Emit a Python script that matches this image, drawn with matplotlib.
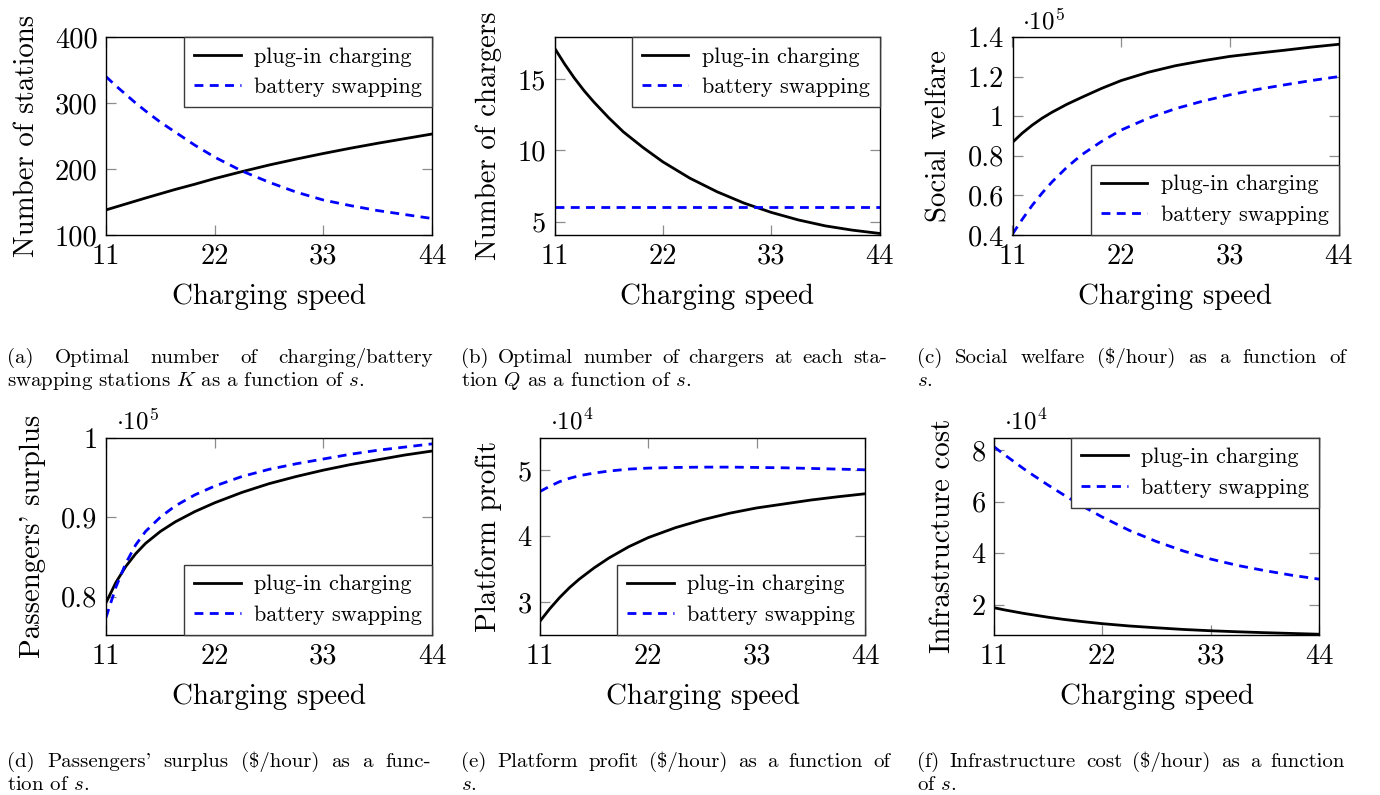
import numpy as np
import matplotlib.pyplot as plt

plt.rcParams['font.family'] = 'serif'
plt.rcParams['font.serif'] = ['cmr10']
plt.rcParams['mathtext.fontset'] = 'cm'
plt.rcParams['axes.unicode_minus'] = False
plt.rcParams['axes.linewidth'] = 1.0

# charging speed s
speed = [11, 12, 13, 14, 15, 16.5, 18, 20, 22, 24.75, 27.5, 30.25, 33, 35.75, 38.5, 41.25, 44]

# (a) number of stations K
stations_plug = [138, 142.5, 147, 151.5, 156, 162.5, 169, 177, 185.5, 196, 206, 215, 223.5, 231.5, 239, 246, 253]
stations_swap = [340, 326, 313, 300, 288, 271, 256, 236, 218, 197, 180, 165, 153, 144.5, 137, 131, 125]

# (b) chargers per station Q
chargers_plug = [17.2, 16.1, 15.1, 14.2, 13.4, 12.3, 11.3, 10.2, 9.2, 8.05, 7.1, 6.3, 5.65, 5.12, 4.7, 4.4, 4.17]
chargers_swap = [6] * len(speed)

# (c) social welfare, x1e5 $/hour
welfare_plug = [0.868, 0.915, 0.955, 0.99, 1.02, 1.06, 1.095, 1.14, 1.18, 1.222, 1.255, 1.28, 1.302, 1.318, 1.333, 1.349, 1.363]
welfare_swap = [0.405, 0.48, 0.55, 0.612, 0.668, 0.742, 0.805, 0.872, 0.93, 0.99, 1.038, 1.076, 1.108, 1.135, 1.158, 1.18, 1.2]

# (d) passengers' surplus, x1e5 $/hour
surplus_plug = [0.7925, 0.818, 0.838, 0.854, 0.867, 0.882, 0.894, 0.907, 0.918, 0.931, 0.942, 0.951, 0.959, 0.966, 0.972, 0.978, 0.983]
surplus_swap = [0.774, 0.812, 0.842, 0.865, 0.882, 0.9, 0.914, 0.928, 0.939, 0.951, 0.96, 0.967, 0.973, 0.979, 0.984, 0.988, 0.992]

# (e) platform profit, x1e4 $/hour
profit_plug = [2.71, 2.9, 3.07, 3.22, 3.35, 3.52, 3.67, 3.84, 3.98, 4.13, 4.25, 4.35, 4.43, 4.49, 4.55, 4.6, 4.645]
profit_swap = [4.68, 4.76, 4.83, 4.88, 4.92, 4.96, 4.99, 5.02, 5.035, 5.045, 5.05, 5.05, 5.045, 5.04, 5.03, 5.02, 5.01]

# (f) infrastructure cost, x1e4 $/hour
cost_plug = [1.88, 1.8, 1.73, 1.66, 1.6, 1.51, 1.43, 1.34, 1.26, 1.17, 1.1, 1.035, 0.985, 0.945, 0.91, 0.88, 0.85]
cost_swap = [8.13, 7.84, 7.56, 7.28, 7.02, 6.64, 6.28, 5.82, 5.4, 4.88, 4.45, 4.08, 3.77, 3.52, 3.32, 3.14, 2.99]

xticks = [11, 22, 33, 44]

W, H = 1380, 795
fig = plt.figure(figsize=(W / 100, H / 100), dpi=100)

# axes boxes in pixels: left, top, right, bottom
panels = [
    dict(box=(106, 37, 432, 235), y=(stations_plug, stations_swap), ylabel='Number of stations',
         ylim=(100, 400), yticks=[100, 200, 300, 400], ylab=['100', '200', '300', '400'],
         exp=None, loc='upper right',
         cap=(7, 433, 363, ['(a)', 'Optimal', 'number', 'of', 'charging/battery'],
              'swapping stations $K$ as a function of $s$.')),
    dict(box=(554.5, 37, 879.5, 235), y=(chargers_plug, chargers_swap), ylabel='Number of chargers',
         ylim=(4.06, 17.97), yticks=[5, 10, 15], ylab=['5', '10', '15'],
         exp=None, loc='upper right',
         cap=(461, 887, 363, ['(b)', 'Optimal', 'number', 'of', 'chargers', 'at', 'each', 'sta-'],
              'tion $Q$ as a function of $s$.')),
    dict(box=(1012.5, 37, 1338.5, 235), y=(welfare_plug, welfare_swap), ylabel='Social welfare',
         ylim=(0.4, 1.4), yticks=[0.4, 0.6, 0.8, 1.0, 1.2, 1.4], ylab=['0.4', '0.6', '0.8', '1', '1.2', '1.4'],
         exp=5, loc='lower right',
         cap=(917, 1346, 363, ['(c)', 'Social', 'welfare', '(\\$/hour)', 'as', 'a', 'function', 'of'],
              '$s$.')),
    dict(box=(106, 437.5, 432, 635), y=(surplus_plug, surplus_swap), ylabel="Passengers' surplus",
         ylim=(0.752, 1.0), yticks=[0.8, 0.9, 1.0], ylab=['0.8', '0.9', '1'],
         exp=5, loc='lower right',
         cap=(7, 431, 767, ['(d)', "Passengers'", 'surplus', '(\\$/hour)', 'as', 'a', 'func-'],
              'tion of $s$.')),
    dict(box=(540, 437.5, 865, 635), y=(profit_plug, profit_swap), ylabel='Platform profit',
         ylim=(2.5, 5.5), yticks=[3, 4, 5], ylab=['3', '4', '5'],
         exp=4, loc='lower right',
         cap=(461, 890, 767, ['(e)', 'Platform', 'profit', '(\\$/hour)', 'as', 'a', 'function', 'of'],
              '$s$.')),
    dict(box=(994, 437.5, 1319, 635), y=(cost_plug, cost_swap), ylabel='Infrastructure cost',
         ylim=(0.82, 8.49), yticks=[2, 4, 6, 8], ylab=['2', '4', '6', '8'],
         exp=4, loc='upper right',
         cap=(917, 1345, 767, ['(f)', 'Infrastructure', 'cost', '(\\$/hour)', 'as', 'a', 'function'],
              'of $s$.')),
]

renderer = fig.canvas.get_renderer()
cap_size = 15


def justified(words, x0, x1, ybase):
    texts = [fig.text(0, 1 - ybase / H, w, fontsize=cap_size, va='baseline') for w in words]
    widths = [t.get_window_extent(renderer).width for t in texts]
    gap = (x1 - x0 - sum(widths)) / (len(words) - 1)
    x = x0
    for t, w in zip(texts, widths):
        t.set_x(x / W)
        x += w + gap


for p in panels:
    l, t, r, b = p['box']
    ax = fig.add_axes([l / W, 1 - b / H, (r - l) / W, (b - t) / H])
    plug, swap = p['y']
    ax.plot(speed, plug, color='black', lw=2.0, label='plug-in charging')
    ax.plot(speed, swap, color='blue', lw=2.0, dashes=(3.2, 2.3), label='battery swapping')
    ax.set_xlim(11, 44)
    ax.set_ylim(*p['ylim'])
    ax.set_xticks(xticks)
    ax.set_xticklabels([str(v) for v in xticks])
    ax.set_yticks(p['yticks'])
    ax.set_yticklabels(p['ylab'])
    ax.tick_params(direction='in', length=7.5, width=0.9, color='#8c8c8c',
                   top=True, right=True, labelsize=20.5, pad=6)
    ax.set_xlabel('Charging speed', fontsize=20.8, labelpad=10)
    ax.set_ylabel(p['ylabel'], fontsize=20.8, labelpad=11)
    if p['exp'] is not None:
        ax.text(0.03, 1.015, r'$\cdot 10^{%d}$' % p['exp'], transform=ax.transAxes,
                fontsize=18, va='bottom', ha='left')
    leg = ax.legend(loc=p['loc'], borderaxespad=0, fontsize=16, fancybox=False,
                    framealpha=1, edgecolor='#3a3a3a', handlelength=2.1,
                    handletextpad=0.6, labelspacing=0.5, borderpad=0.45)
    leg.get_frame().set_linewidth(1.0)

    x0, x1, ybase, words, last = p['cap']
    justified(words, x0, x1, ybase)
    fig.text(x0 / W, 1 - (ybase + 22.5) / H, last, fontsize=cap_size, va='baseline')

plt.savefig('out.png', dpi=100)
